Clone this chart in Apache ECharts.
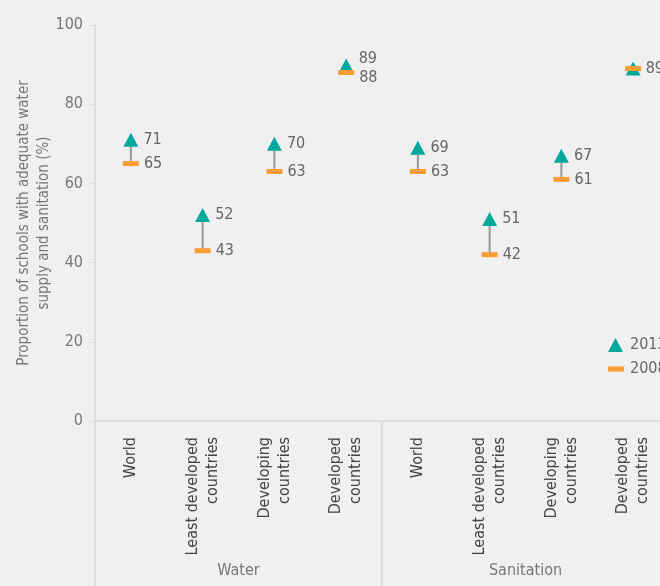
<!DOCTYPE html>
<html>
<head>
<meta charset="utf-8">
<script src="https://cdn.jsdelivr.net/npm/echarts@6/dist/echarts.min.js"></script>
<style>
html,body{margin:0;padding:0;background:#f0f0f0;}
#c{width:660px;height:586px;}
</style>
</head>
<body>
<div id="c"></div>
<script>
var categories = ['World', 'Least developed\ncountries', 'Developing\ncountries', 'Developed\ncountries',
                  'World', 'Least developed\ncountries', 'Developing\ncountries', 'Developed\ncountries'];
var groups = ['Water', 'Sanitation'];
var values2013 = [71, 52, 70, 89, 69, 51, 67, 89];
var values2008 = [65, 43, 63, 88, 63, 42, 61, 89];
var yTicks = [0, 20, 40, 60, 80, 100];
var yAxisTitle = 'Proportion of schools with adequate water\nsupply and sanitation (%)';

var FONT = "'Liberation Sans Narrow', 'DejaVu Sans Condensed', 'Roboto', sans-serif";
var TEAL = '#00a99d';
var ORANGE = '#f89c34';

var chart = echarts.init(document.getElementById('c'), null, {renderer: 'canvas'});

var data2013 = values2013.map(function (v, i) {
  var d = {value: [i, v]};
  if (i === 3) {
    d.symbolOffset = [0, -3];
    d.label = {offset: [0, -7]};
  }
  return d;
});
var data2008 = values2008.map(function (v, i) {
  var d = {value: [i, v]};
  if (i === 3) d.label = {offset: [0, 5]};
  if (i === 7) d.label = {show: false};
  return d;
});
var connectorData = values2013.map(function (v, i) { return [i, values2008[i], v]; });

var option = {
  backgroundColor: '#f0f0f0',
  textStyle: {fontFamily: FONT},
  animation: false,
  grid: {left: 95, top: 25, bottom: 165, width: 574, containLabel: false, outerBoundsMode: 'none'},
  legend: [
    {
      data: [{name: '2013', icon: 'triangle'}],
      left: 608, top: 337, itemWidth: 15, itemHeight: 14, itemGap: 0,
      textStyle: {color: '#666', fontSize: 16, fontFamily: FONT, padding: [0, 0, 0, 2]},
      padding: 0
    },
    {
      data: [{name: '2008', icon: 'rect'}],
      left: 608, top: 361, itemWidth: 16, itemHeight: 5, itemGap: 0,
      textStyle: {color: '#666', fontSize: 16, fontFamily: FONT, padding: [0, 0, 0, 1]},
      padding: 0
    }
  ],
  xAxis: [
    {
      type: 'category',
      data: categories,
      boundaryGap: true,
      axisLine: {show: true, lineStyle: {color: '#dedede', width: 2}},
      axisTick: {
        show: true,
        interval: function (idx) { return idx === 0 || idx === 4; },
        length: 170,
        inside: false,
        lineStyle: {color: '#dedede', width: 2}
      },
      axisLabel: {
        rotate: 90, interval: 0, margin: 16,
        color: '#444', fontSize: 16, lineHeight: 20, fontFamily: FONT
      },
      splitLine: {show: false}
    },
    {
      type: 'category',
      data: groups,
      position: 'bottom',
      boundaryGap: true,
      axisLine: {show: false},
      axisTick: {show: false},
      axisLabel: {margin: 142, color: '#777', fontSize: 16, fontFamily: FONT},
      splitLine: {show: false}
    }
  ],
  yAxis: {
    type: 'value',
    min: yTicks[0], max: yTicks[yTicks.length - 1], interval: 20,
    name: yAxisTitle,
    nameLocation: 'middle',
    nameRotate: 90,
    nameGap: 41,
    nameMoveOverlap: false,
    nameTextStyle: {color: '#777', fontSize: 15, lineHeight: 20, fontFamily: FONT},
    axisLine: {show: true, lineStyle: {color: '#dedede', width: 2}},
    axisTick: {show: true, length: 6, lineStyle: {color: '#dedede', width: 1}},
    axisLabel: {color: '#777', fontSize: 16, margin: 12, fontFamily: FONT},
    splitLine: {show: false}
  },
  series: [
    {
      type: 'custom',
      name: 'connector',
      data: connectorData,
      z: 1,
      silent: true,
      renderItem: function (params, api) {
        var p1 = api.coord([api.value(0), api.value(1)]);
        var p2 = api.coord([api.value(0), api.value(2)]);
        return {
          type: 'line',
          shape: {x1: p1[0], y1: p1[1], x2: p2[0], y2: p2[1]},
          style: {stroke: '#9a9a9a', lineWidth: 2}
        };
      }
    },
    {
      type: 'scatter',
      name: '2013',
      data: data2013,
      symbol: 'triangle',
      symbolSize: [15, 14],
      itemStyle: {color: TEAL, opacity: 1},
      z: 3,
      label: {
        show: true, position: 'right', distance: 5,
        formatter: function (p) { return p.value[1]; },
        color: '#666', fontSize: 16, fontFamily: FONT
      }
    },
    {
      type: 'scatter',
      name: '2008',
      data: data2008,
      symbol: 'rect',
      symbolSize: [16, 5],
      itemStyle: {color: ORANGE, opacity: 1},
      z: 4,
      label: {
        show: true, position: 'right', distance: 5,
        formatter: function (p) { return p.value[1]; },
        color: '#666', fontSize: 16, fontFamily: FONT
      }
    }
  ]
};
chart.setOption(option);
</script>
</body>
</html>
